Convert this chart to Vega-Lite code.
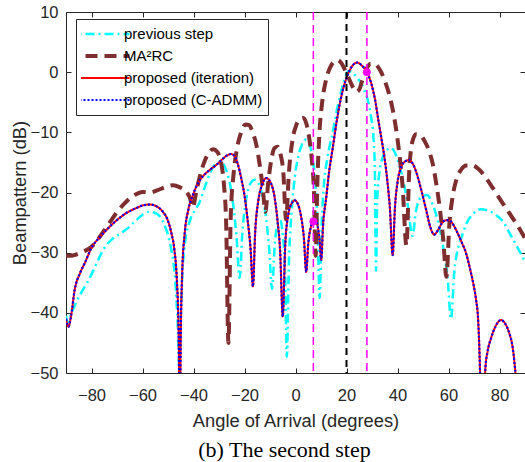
{
  "$schema": "https://vega.github.io/schema/vega-lite/v6.json",
  "width": 459,
  "height": 361,
  "autosize": {"type": "none"},
  "padding": {"left": 66, "top": 12, "right": 0, "bottom": 89},
  "background": "white",
  "title": {"text": "(b) The second step", "orient": "bottom", "font": "Liberation Serif", "fontSize": 22, "fontWeight": "normal", "color": "black", "offset": 10, "anchor": "middle", "dx": -11},
  "config": {
    "view": {"stroke": null},
    "font": "Liberation Sans",
    "axis": {"grid": false, "domainColor": "#262626", "tickColor": "#262626", "labelColor": "#262626", "titleColor": "#262626", "labelFont": "Liberation Sans", "titleFont": "Liberation Sans", "labelFontSize": 16.5, "titleFontSize": 18.3, "titleFontWeight": "normal", "tickSize": -5, "domainWidth": 1, "tickWidth": 1},
    "legend": {"orient": "none", "legendX": 10, "legendY": 7, "padding": 5, "strokeColor": "#262626", "fillColor": "white", "symbolType": "stroke", "symbolSize": 6724, "labelFontSize": 15, "labelFont": "Liberation Sans", "labelColor": "black", "clipHeight": 20, "rowPadding": 2, "labelOffset": 28, "cornerRadius": 0}
  },
  "datasets": {
    "prev": [
      {"x":-90,"y":-40.5},{"x":-89.3,"y":-41.6},{"x":-88.5,"y":-40.8},{"x":-87,"y":-39.2},{"x":-84.5,"y":-37},{"x":-82,"y":-35.2},{"x":-80,"y":-33.6},{"x":-78,"y":-31.8},{"x":-75.5,"y":-29.6},{"x":-72,"y":-27.8},{"x":-69,"y":-26.9},{"x":-66,"y":-26},{"x":-63,"y":-24.8},{"x":-60,"y":-23.7},{"x":-57.5,"y":-23.2},{"x":-55,"y":-23.4},{"x":-53,"y":-24.1},{"x":-51,"y":-25.8},{"x":-49.5,"y":-27.8},{"x":-48.5,"y":-30},{"x":-47.5,"y":-33},{"x":-46.7,"y":-37.5},{"x":-46.1,"y":-43},{"x":-45.6,"y":-49},{"x":-45.1,"y":-42},{"x":-44.4,"y":-34},{"x":-43.2,"y":-28},{"x":-41.5,"y":-24.8},{"x":-39.5,"y":-23},{"x":-37.6,"y":-21.6},{"x":-35.5,"y":-19},{"x":-33.5,"y":-16.8},{"x":-31.5,"y":-15.3},{"x":-30,"y":-14.9},{"x":-28.5,"y":-15.2},{"x":-27,"y":-16.5},{"x":-25.5,"y":-19},{"x":-24.3,"y":-22.5},{"x":-23.2,"y":-27},{"x":-21.9,"y":-34.2},{"x":-20.8,"y":-26.5},{"x":-19.5,"y":-21.5},{"x":-17.8,"y":-18.6},{"x":-16,"y":-17.9},{"x":-14.4,"y":-18.6},{"x":-13,"y":-20.5},{"x":-11.6,"y":-24},{"x":-10.3,"y":-29.5},{"x":-9.2,"y":-36},{"x":-8.1,"y":-28.5},{"x":-6.8,"y":-25},{"x":-6,"y":-24.6},{"x":-5,"y":-27},{"x":-4.1,"y":-33},{"x":-3.4,"y":-47.3},{"x":-2.6,"y":-32},{"x":-1.5,"y":-23},{"x":-0.2,"y":-17.2},{"x":1.2,"y":-13.8},{"x":2.8,"y":-11.8},{"x":4.2,"y":-11.2},{"x":5.5,"y":-12},{"x":6.6,"y":-14},{"x":7.6,"y":-17.6},{"x":8.5,"y":-23.5},{"x":9.5,"y":-37.5},{"x":10.3,"y":-25},{"x":11,"y":-19.5},{"x":12.5,"y":-14.3},{"x":14.6,"y":-10},{"x":16,"y":-6.8},{"x":17.2,"y":-4.4},{"x":18.5,"y":-2.2},{"x":19.7,"y":-0.6},{"x":20.8,"y":0.2},{"x":22,"y":0.1},{"x":23.5,"y":-0.6},{"x":25.7,"y":-1.8},{"x":27,"y":-3},{"x":28.3,"y":-4.6},{"x":29.7,"y":-7.6},{"x":30.6,"y":-11},{"x":31.1,"y":-16},{"x":31.6,"y":-33},{"x":32,"y":-22},{"x":32.8,"y":-17},{"x":34,"y":-14.4},{"x":35.5,"y":-13.1},{"x":37.3,"y":-12.6},{"x":38.8,"y":-13.2},{"x":40.7,"y":-15.5},{"x":42.5,"y":-18.5},{"x":44,"y":-22},{"x":45.9,"y":-27.2},{"x":47.2,"y":-23.2},{"x":49.2,"y":-20.8},{"x":51.6,"y":-20.4},{"x":53.8,"y":-22},{"x":56,"y":-25},{"x":58,"y":-29.3},{"x":59.6,"y":-34},{"x":61,"y":-41},{"x":62.3,"y":-33},{"x":63.6,"y":-29.5},{"x":65,"y":-27.6},{"x":67,"y":-25.2},{"x":69.5,"y":-23.6},{"x":72.5,"y":-22.8},{"x":75.5,"y":-23},{"x":78.5,"y":-23.7},{"x":81.5,"y":-24.9},{"x":84,"y":-26.8},{"x":86.5,"y":-28.7},{"x":90,"y":-31.5}
    ],
    "ma": [
      {"x":-90,"y":-30.5},{"x":-88,"y":-30.5},{"x":-86,"y":-30.3},{"x":-83,"y":-29.8},{"x":-80,"y":-29},{"x":-77,"y":-27.5},{"x":-75,"y":-26.3},{"x":-72.9,"y":-25},{"x":-69.5,"y":-23},{"x":-66.3,"y":-21.5},{"x":-63,"y":-20.4},{"x":-60,"y":-19.9},{"x":-57,"y":-20},{"x":-54,"y":-19.6},{"x":-51,"y":-19.1},{"x":-48,"y":-18.8},{"x":-45.5,"y":-19.1},{"x":-43,"y":-19.8},{"x":-41.5,"y":-20.8},{"x":-40.2,"y":-22.5},{"x":-39.2,"y":-20.5},{"x":-37.8,"y":-17.8},{"x":-36,"y":-15.2},{"x":-34.2,"y":-13.5},{"x":-32.3,"y":-12.8},{"x":-30.6,"y":-13.3},{"x":-29.2,"y":-15},{"x":-28.1,"y":-18.5},{"x":-27.2,"y":-25},{"x":-26.3,"y":-45},{"x":-25.4,"y":-24},{"x":-24.3,"y":-17},{"x":-22.9,"y":-12.6},{"x":-21.3,"y":-10},{"x":-19.6,"y":-8.7},{"x":-18.2,"y":-8.8},{"x":-16.8,"y":-10},{"x":-15.4,"y":-12},{"x":-14.1,"y":-15.2},{"x":-12.9,"y":-19},{"x":-11.8,"y":-23.2},{"x":-10.8,"y":-18.8},{"x":-9.5,"y":-14.6},{"x":-8.2,"y":-12.6},{"x":-7,"y":-12.4},{"x":-5.9,"y":-13.6},{"x":-4.8,"y":-16.5},{"x":-3.7,"y":-24.5},{"x":-2.6,"y":-16.8},{"x":-1.3,"y":-11.6},{"x":0.3,"y":-8.8},{"x":1.8,"y":-7.8},{"x":3,"y":-7.6},{"x":4.3,"y":-8.6},{"x":5.4,"y":-11},{"x":6.4,"y":-14.6},{"x":7.2,"y":-19.5},{"x":7.9,"y":-30.5},{"x":8.6,"y":-18},{"x":9.4,"y":-10},{"x":10.4,"y":-5.2},{"x":11.8,"y":-1.6},{"x":13.4,"y":0.6},{"x":15,"y":1.7},{"x":16.5,"y":2},{"x":18,"y":1.5},{"x":19.5,"y":0.3},{"x":21,"y":-1.1},{"x":22.5,"y":-2.5},{"x":23.8,"y":-3.3},{"x":25,"y":-2.9},{"x":26.3,"y":-1.2},{"x":27.8,"y":0.5},{"x":29.5,"y":1.4},{"x":31.3,"y":1.3},{"x":33.2,"y":0.3},{"x":35,"y":-1.4},{"x":36.8,"y":-3.8},{"x":38.4,"y":-6.8},{"x":39.7,"y":-10.2},{"x":40.9,"y":-14.2},{"x":42,"y":-19},{"x":43.5,"y":-28.8},{"x":44.6,"y":-16.5},{"x":45.8,"y":-11.6},{"x":47.3,"y":-10.3},{"x":49,"y":-10.5},{"x":50.7,"y":-11.5},{"x":52.3,"y":-13},{"x":53.8,"y":-15.2},{"x":55.3,"y":-18.8},{"x":56.7,"y":-23},{"x":57.9,"y":-27.6},{"x":59.2,"y":-34},{"x":60.3,"y":-25.5},{"x":61.5,"y":-21},{"x":63,"y":-18},{"x":64.8,"y":-16.3},{"x":67,"y":-15.5},{"x":69.4,"y":-15.5},{"x":71.8,"y":-16.1},{"x":74.4,"y":-17.4},{"x":77.3,"y":-19.2},{"x":80.5,"y":-21.3},{"x":83.8,"y":-23.4},{"x":86.8,"y":-25.3},{"x":90,"y":-27.6}
    ],
    "prop": [
      {"x":-90,"y":-41},{"x":-89,"y":-42.3},{"x":-88,"y":-40.5},{"x":-86.6,"y":-36.2},{"x":-84.5,"y":-33.4},{"x":-82.6,"y":-31.7},{"x":-80,"y":-29.2},{"x":-76.5,"y":-27.3},{"x":-72.9,"y":-25.7},{"x":-69.5,"y":-24.4},{"x":-66.3,"y":-23.4},{"x":-62.5,"y":-22.6},{"x":-59.5,"y":-22.1},{"x":-57,"y":-22},{"x":-54.5,"y":-22.3},{"x":-52,"y":-23.2},{"x":-50.2,"y":-24.5},{"x":-48.7,"y":-26.7},{"x":-47.5,"y":-29.5},{"x":-46.6,"y":-34},{"x":-45.8,"y":-44},{"x":-45.4,"y":-62},{"x":-45,"y":-44},{"x":-44.4,"y":-33},{"x":-43.5,"y":-27},{"x":-42,"y":-22.8},{"x":-40.2,"y":-20.4},{"x":-38.3,"y":-18.5},{"x":-36.3,"y":-17.3},{"x":-33.5,"y":-16.2},{"x":-31,"y":-15.4},{"x":-28.5,"y":-14.4},{"x":-26.7,"y":-13.8},{"x":-25.2,"y":-13.6},{"x":-23.8,"y":-14},{"x":-22.6,"y":-15.3},{"x":-21.2,"y":-17.8},{"x":-20,"y":-20.5},{"x":-18.8,"y":-24.5},{"x":-17.6,"y":-29.5},{"x":-16.7,"y":-35.6},{"x":-15.8,"y":-26.5},{"x":-14.6,"y":-21.4},{"x":-13.2,"y":-18.8},{"x":-11.4,"y":-17.6},{"x":-9.8,"y":-18.3},{"x":-8.4,"y":-20.3},{"x":-7.1,"y":-24.5},{"x":-6,"y":-30},{"x":-5,"y":-40.6},{"x":-4,"y":-28.5},{"x":-2.8,"y":-23.6},{"x":-1.5,"y":-21.8},{"x":-0.3,"y":-21.3},{"x":1,"y":-22},{"x":2.2,"y":-24},{"x":3.3,"y":-27.6},{"x":4.2,"y":-33.2},{"x":5,"y":-28.5},{"x":6,"y":-25.8},{"x":7,"y":-24.7},{"x":7.9,"y":-24.5},{"x":8.7,"y":-25.6},{"x":9.4,"y":-27.8},{"x":10.1,"y":-31.2},{"x":10.8,"y":-25.5},{"x":12,"y":-21},{"x":13.2,"y":-16.5},{"x":14.6,"y":-12.6},{"x":16,"y":-8.6},{"x":17.2,"y":-5.6},{"x":18.8,"y":-2.6},{"x":20.5,"y":-0.4},{"x":22.2,"y":1},{"x":24.2,"y":1.6},{"x":26,"y":1.1},{"x":28,"y":0},{"x":29.8,"y":-2},{"x":31.3,"y":-4.8},{"x":32.5,"y":-8},{"x":33.8,"y":-11.3},{"x":35,"y":-14.5},{"x":36,"y":-18},{"x":37,"y":-22.5},{"x":38.1,"y":-30.4},{"x":39,"y":-22.5},{"x":40,"y":-18.3},{"x":41.2,"y":-16},{"x":42.8,"y":-14.9},{"x":44.5,"y":-14.6},{"x":46.2,"y":-15.4},{"x":47.8,"y":-17.2},{"x":49.5,"y":-19.9},{"x":51.3,"y":-23},{"x":52.9,"y":-25.8},{"x":54.4,"y":-27},{"x":55.8,"y":-26.3},{"x":57.4,"y":-25.1},{"x":59,"y":-24.6},{"x":60.3,"y":-24.6},{"x":61.8,"y":-25.3},{"x":63.4,"y":-26.6},{"x":65.2,"y":-28.3},{"x":66.9,"y":-30.1},{"x":68.5,"y":-32.8},{"x":69.8,"y":-35.3},{"x":70.8,"y":-37.8},{"x":71.6,"y":-41},{"x":72.1,"y":-46},{"x":72.6,"y":-54},{"x":73.3,"y":-72},{"x":74,"y":-54},{"x":74.5,"y":-49},{"x":75.3,"y":-46.5},{"x":76.7,"y":-44.2},{"x":78.5,"y":-42.2},{"x":80.6,"y":-41.2},{"x":82.5,"y":-42},{"x":84,"y":-43.6},{"x":85.1,"y":-45.6},{"x":85.8,"y":-48},{"x":86.5,"y":-52},{"x":87.5,"y":-70},{"x":90,"y":-70}
    ],
    "magentaLines": [{"x": 7}, {"x": 28}],
    "blackLine": [{"x": 20}],
    "markers": [{"x": 7, "y": -24.8}, {"x": 28, "y": 0}]
  },
  "resolve": {"axis": {"x": "independent", "y": "independent"}},
  "layer": [
    {
      "data": {"name": "prev"},
      "mark": {"type": "line", "interpolate": "monotone", "clip": true, "strokeCap": "butt", "strokeWidth": 2.5},
      "encoding": {
        "x": {"field": "x", "type": "quantitative", "scale": {"domain": [-90, 90], "nice": false, "zero": false},
              "axis": {"values": [-80,-60,-40,-20,0,20,40,60,80], "title": "Angle of Arrival (degrees)", "labelPadding": 19, "titlePadding": 9}},
        "y": {"field": "y", "type": "quantitative", "scale": {"domain": [-50, 10], "nice": false, "zero": false},
              "axis": {"values": [-50,-40,-30,-20,-10,0,10], "title": "Beampattern (dB)", "labelPadding": 13, "titlePadding": 1}},
        "color": {"datum": "previous step", "type": "nominal",
                  "scale": {"domain": ["previous step", "MA²RC", "proposed (iteration)", "proposed (C-ADMM)"], "range": ["#00FFFF", "#7E2E2E", "#FF0000", "#0000FF"]},
                  "legend": {"title": null, "encode": {"symbols": {"update": {"strokeWidth": {"signal": "datum.value === 'MA²RC' ? 4 : datum.value === 'previous step' ? 2.5 : 2"}}}}}},
        "strokeDash": {"datum": "previous step", "type": "nominal",
                  "scale": {"domain": ["previous step", "MA²RC", "proposed (iteration)", "proposed (C-ADMM)"], "range": [[9,4,2,4],[12,7],[1,0],[2,2]]},
                  "legend": {"title": null, "encode": {"symbols": {"update": {"strokeWidth": {"signal": "datum.value === 'MA²RC' ? 4 : datum.value === 'previous step' ? 2.5 : 2"}}}}}}
      }
    },
    {
      "data": {"name": "ma"},
      "mark": {"type": "line", "interpolate": "monotone", "clip": true, "strokeCap": "butt", "strokeWidth": 4},
      "encoding": {
        "x": {"field": "x", "type": "quantitative", "axis": null},
        "y": {"field": "y", "type": "quantitative", "axis": null},
        "color": {"datum": "MA²RC", "type": "nominal"},
        "strokeDash": {"datum": "MA²RC", "type": "nominal"}
      }
    },
    {
      "data": {"name": "prop"},
      "mark": {"type": "line", "interpolate": "monotone", "clip": true, "strokeCap": "butt", "strokeWidth": 2},
      "encoding": {
        "x": {"field": "x", "type": "quantitative", "axis": null},
        "y": {"field": "y", "type": "quantitative", "axis": null},
        "color": {"datum": "proposed (iteration)", "type": "nominal"},
        "strokeDash": {"datum": "proposed (iteration)", "type": "nominal"}
      }
    },
    {
      "data": {"name": "prop"},
      "mark": {"type": "line", "interpolate": "monotone", "clip": true, "strokeCap": "butt", "strokeWidth": 2.2},
      "encoding": {
        "x": {"field": "x", "type": "quantitative", "axis": null},
        "y": {"field": "y", "type": "quantitative", "axis": null},
        "color": {"datum": "proposed (C-ADMM)", "type": "nominal"},
        "strokeDash": {"datum": "proposed (C-ADMM)", "type": "nominal"}
      }
    },
    {
      "data": {"name": "magentaLines"},
      "mark": {"type": "rule", "color": "#FF00FF", "strokeWidth": 1.5, "strokeDash": [8, 5]},
      "encoding": {
        "x": {"field": "x", "type": "quantitative", "axis": {"orient": "top", "labels": false, "title": null, "values": [-80,-60,-40,-20,0,20,40,60,80]}}
      }
    },
    {
      "data": {"name": "blackLine"},
      "mark": {"type": "rule", "color": "black", "strokeWidth": 2, "strokeDash": [7, 5]},
      "encoding": {
        "x": {"field": "x", "type": "quantitative", "axis": null}
      }
    },
    {
      "data": {"name": "markers"},
      "mark": {"type": "point", "filled": true, "color": "#FF00FF", "size": 60, "opacity": 1, "shape": "circle"},
      "encoding": {
        "x": {"field": "x", "type": "quantitative", "axis": null},
        "y": {"field": "y", "type": "quantitative", "axis": {"orient": "right", "labels": false, "title": null, "values": [-50,-40,-30,-20,-10,0,10]}}
      }
    }
  ]
}
